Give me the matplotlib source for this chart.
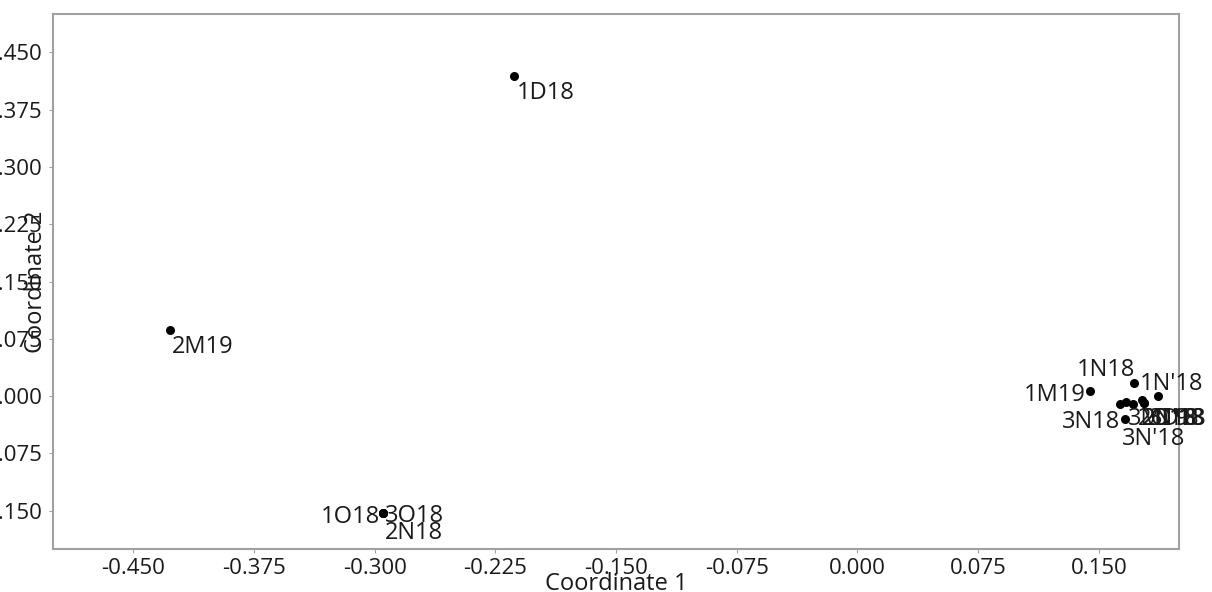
# MDS-style scatter with sample labels

import numpy as np
import matplotlib.pyplot as plt
from matplotlib.ticker import FormatStrFormatter

plt.rcParams['font.family'] = ['Open Sans', 'DejaVu Sans']

# sample names and coordinates
labels = ["1D18", "2M19", "1O18", "3O18", "2N18",
          "1N18", "1M19", "1N'18", "3N18", "3N'18",
          "3M19", "2O18", "2D18", "3D18", "2N'18"]
coord1 = [-0.2135, -0.427, -0.2948, -0.2948, -0.2948,
          0.1717, 0.1444, 0.1866, 0.166, 0.1712,
          0.163, 0.1671, 0.177, 0.1778, 0.1778]
coord2 = [0.419, 0.0865, -0.153, -0.153, -0.153,
          0.017, 0.0066, 0.0, -0.0297, -0.0109,
          -0.0109, -0.0079, -0.0052, -0.0088, -0.0088]

# label placement (offset in pixels, horizontal alignment)
offsets = [(3, -17), (2, -17), (-3, -4), (2, -3), (2, -20),
           (1, 13), (-4, -4), (-18, 12), (-4, -3), (-11, -35),
           (8, -15), (12, -17), (0, -19), (5, -16), (-2, -16)]
aligns = ["left", "left", "right", "left", "left",
          "right", "right", "left", "right", "left",
          "left", "left", "left", "left", "left"]

fig = plt.figure(figsize=(12.12, 5.92), dpi=100)
ax = fig.add_axes([0.0435, 0.0726, 0.9295, 0.9037])

ax.scatter(coord1, coord2, s=30, color="black", zorder=3)

for name, x, y, off, ha in zip(labels, coord1, coord2, offsets, aligns):
    ax.annotate(name, (x, y), xytext=off, textcoords="offset pixels",
                ha=ha, va="center", fontsize=17, color="#1a1a1a")

ax.set_xlim(-0.5, 0.2)
ax.set_ylim(-0.2, 0.5)
ax.xaxis.set_major_formatter(FormatStrFormatter("%.3f"))
ax.yaxis.set_major_formatter(FormatStrFormatter("%.3f"))
ax.set_xticks(np.arange(-0.45, 0.151, 0.075))
ax.set_yticks(np.arange(-0.15, 0.451, 0.075))

for s in ax.spines.values():
    s.set_color("#a0a0a0")
    s.set_linewidth(1.5)
ax.tick_params(length=3, color="#a0a0a0", labelsize=16, labelcolor="#1a1a1a", pad=3.5)
ax.tick_params(axis="y", pad=4.5)

ax.set_xlabel("Coordinate 1", fontsize=17, color="#1a1a1a")
ax.set_ylabel("Coordinate 2", fontsize=17, color="#1a1a1a")
ax.xaxis.set_label_coords(0.5, -0.043)
ax.yaxis.set_label_coords(-0.004, 0.5)

plt.savefig("out.png", dpi=100)
